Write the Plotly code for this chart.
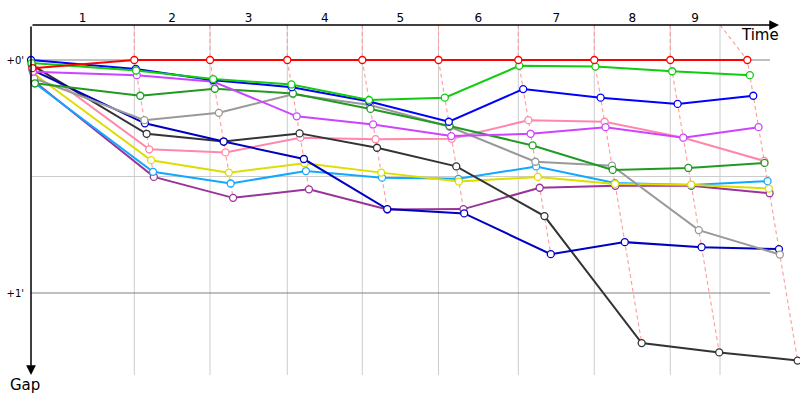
import plotly.graph_objects as go

# ---------------- data ----------------
lap_labels = ["1", "2", "3", "4", "5", "6", "7", "8", "9"]
# leader lap times in seconds (lap 1 includes the standing start)
leader_lap_times = [158.9, 116.5, 118.9, 115.4, 117.2, 122.8, 116.9, 116.9, 118.5]
time_limit = 1060  # end of the visible time grid (s)

# gap to leader in seconds: start, then after laps 1..9
gap_red = [2.1, 0, 0, 0, 0, 0, 0, 0, 0, 0]
gap_green = [0.8, 2.7, 4.9, 6.3, 10.3, 9.7, 1.5, 1.7, 2.9, 3.9]
gap_blue = [0.0, 2.3, 5.2, 7.0, 10.7, 15.9, 7.5, 9.7, 11.3, 9.2]
gap_violet = [3.0, 3.9, 5.6, 14.5, 16.6, 19.6, 19.0, 17.3, 20.0, 17.3]
gap_darkgreen = [6.0, 9.2, 7.4, 8.6, 12.6, 17.0, 22.0, 28.3, 27.8, 26.5]
gap_grey = [4.7, 15.5, 13.6, 8.8, 11.6, 17.2, 26.2, 27.2, 43.8, 50.1]
gap_navy = [2.6, 16.3, 21.0, 25.5, 38.4, 39.5, 50.0, 46.9, 48.2, 48.7]
gap_black = [1.3, 19.0, 21.0, 18.9, 22.6, 27.4, 40.2, 72.9, 75.3, 77.4]
gap_pink = [0.7, 23.0, 23.8, 20.0, 20.4, 20.3, 15.5, 15.9, 20.0, 26.0]
gap_yellow = [3.4, 25.8, 29.0, 26.6, 29.0, 31.3, 30.1, 31.9, 32.1, 33.1]
gap_lightblue = [6.0, 28.8, 31.8, 28.6, 30.3, 30.6, 27.4, 31.7, 32.2, 31.2]
gap_purple = [5.6, 30.1, 35.5, 33.3, 38.5, 38.4, 32.9, 32.4, 32.4, 34.3]

y_tick_vals = [0, 60]
y_tick_text = ["+0'", "+1'"]

# ---------------- styling ----------------
series = [
    (gap_purple, "#993399"),
    (gap_lightblue, "#11a8ff"),
    (gap_yellow, "#dddd00"),
    (gap_pink, "#ff88aa"),
    (gap_black, "#333333"),
    (gap_navy, "#0000c0"),
    (gap_grey, "#999999"),
    (gap_darkgreen, "#229922"),
    (gap_violet, "#cc44ff"),
    (gap_blue, "#0000ff"),
    (gap_green, "#11cc11"),
    (gap_red, "#ff0000"),
]

W, H = 800, 400
ML, MT, MB = 31, 25, 25
PLOT_W, PLOT_H = W - ML, H - MT - MB
PX_X = 0.65            # px per second along time
PX_Y = 233 / 60        # px per second along gap
ZERO_Y_PX = 60
y_top = -(ZERO_Y_PX - MT) / PX_Y
y_bot = (H - MB - ZERO_Y_PX) / PX_Y
x_max = PLOT_W / PX_X
line_end = (770 - ML) / PX_X
arrow_end = (779 - ML) / PX_X

leader_cum = [0.0]
for t in leader_lap_times:
    leader_cum.append(leader_cum[-1] + t)

fig = go.Figure()

# dashed per-lap connectors
for k in range(1, len(leader_cum)):
    T = leader_cum[k]
    pts = sorted(g[k] for g, _ in series)
    xs = [min(T, time_limit)] + [T + g for g in pts]
    ys = [y_top] + pts
    fig.add_trace(go.Scatter(x=xs, y=ys, mode="lines", hoverinfo="skip",
                             line=dict(color="#ff9c9c", width=1.1, dash="4px,3px"),
                             showlegend=False, cliponaxis=False))

for gaps, col in series:
    xs = [leader_cum[i] + g for i, g in enumerate(gaps)]
    fig.add_trace(go.Scatter(
        x=xs, y=gaps, mode="lines+markers", showlegend=False, cliponaxis=False,
        line=dict(color=col, width=2),
        marker=dict(symbol="circle", size=7, color="white", line=dict(color=col, width=1.3)),
    ))

shapes = []
grid_x = [t for t in leader_cum[1:] if t < time_limit] + [time_limit]
for gx in grid_x:
    shapes.append(dict(type="line", xref="x", yref="y", x0=gx, x1=gx, y0=y_top, y1=y_bot,
                       line=dict(color="#cccccc", width=1), layer="below"))
shapes.append(dict(type="line", xref="x", yref="y", x0=0, x1=line_end, y0=30, y1=30,
                   line=dict(color="#cccccc", width=1), layer="below"))
for yv in y_tick_vals:
    shapes.append(dict(type="line", xref="x", yref="y", x0=0, x1=line_end, y0=yv, y1=yv,
                       line=dict(color="#808080", width=1), layer="below"))

annotations = [
    dict(x=arrow_end, y=y_top, ax=0, ay=y_top, xref="x", yref="y", axref="x", ayref="y",
         text="", showarrow=True, arrowhead=2, arrowsize=1.3, arrowwidth=1.5, arrowcolor="black"),
    dict(x=0, y=y_bot, ax=0, ay=y_top, xref="x", yref="y", axref="x", ayref="y",
         text="", showarrow=True, arrowhead=2, arrowsize=1.3, arrowwidth=1.5, arrowcolor="black"),
    dict(x=(760 - ML) / PLOT_W, y=(H - MB - 35) / PLOT_H, xref="paper", yref="paper",
         xanchor="center", yanchor="middle",
         text="Time", showarrow=False, font=dict(size=15, color="black")),
    dict(x=(25 - ML) / PLOT_W, y=(H - MB - 385) / PLOT_H, xref="paper", yref="paper",
         xanchor="center", yanchor="middle",
         text="Gap", showarrow=False, font=dict(size=15, color="black")),
]

bounds = [0.0] + grid_x
lap_centers = [(bounds[i] + bounds[i + 1]) / 2 for i in range(len(lap_labels))]

fig.update_layout(
    width=W, height=H, margin=dict(l=ML, r=0, t=MT, b=MB, pad=0),
    paper_bgcolor="white", plot_bgcolor="white",
    font=dict(family="DejaVu Sans", color="black"),
    shapes=shapes, annotations=annotations,
    xaxis=dict(range=[0, x_max], side="top", tickvals=lap_centers, ticktext=lap_labels,
               showgrid=False, zeroline=False, showline=False, ticks="",
               tickfont=dict(size=12), automargin=False, fixedrange=True),
    yaxis=dict(range=[y_bot, y_top], tickvals=y_tick_vals, ticktext=y_tick_text,
               showgrid=False, zeroline=False, showline=False, ticks="",
               tickfont=dict(size=10), automargin=False, fixedrange=True,
               ticklabelstandoff=6),
)

fig.write_html(
    "out.html",
    config={"displayModeBar": False},
    post_script="document.body.style.margin='0';document.body.style.overflow='hidden';",
)
